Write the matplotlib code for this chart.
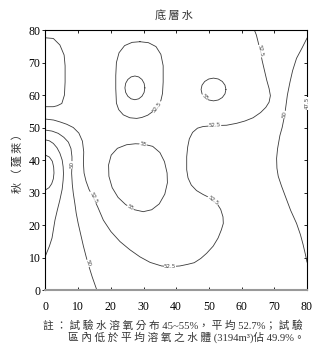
import numpy as np
import matplotlib
matplotlib.use('Agg')
import matplotlib.pyplot as plt

plt.rcParams['font.family'] = ['Liberation Serif', 'Noto Sans CJK TC', 'DejaVu Sans']

lobe_x = [0, 2.4, 4.4, 5.7, 6.0, 6.0, 5.8, 5.0, 3.6, 2.4, 0]
lobe_y = [77.6, 77.4, 75.4, 72.3, 69.0, 64.0, 60.0, 57.4, 56.7, 56.4, 56.4]

oval_x = [28.9, 31.5, 33.8, 35.3, 36.0, 36.0, 35.8, 35.3, 34.1, 32.8, 31.3, 29.5, 27.9,
          25.8, 23.8, 22.4, 21.7, 21.5, 21.5, 21.7, 22.5, 24.2, 26.5, 28.9]
oval_y = [76.4, 76.1, 74.9, 72.5, 69.0, 64.0, 60.5, 58.3, 56.4, 54.9, 53.8, 53.1, 52.8,
          53.0, 53.9, 55.5, 57.5, 62.0, 66.0, 70.0, 73.0, 75.2, 76.2, 76.4]

ring1_x = [30.40, 30.17, 29.51, 28.52, 27.35, 26.18, 25.19, 24.53, 24.30,
           24.53, 25.19, 26.18, 27.35, 28.52, 29.51, 30.17, 30.40]
ring1_y = [62.20, 63.60, 64.78, 65.57, 65.85, 65.57, 64.78, 63.60, 62.20,
           60.80, 59.62, 58.83, 58.55, 58.83, 59.62, 60.80, 62.20]

ring2_x = [55.20, 54.91, 54.09, 52.85, 51.40, 49.95, 48.71, 47.89, 47.60,
           47.89, 48.71, 49.95, 51.40, 52.85, 54.09, 54.91, 55.20]
ring2_y = [61.70, 63.04, 64.17, 64.93, 65.20, 64.93, 64.17, 63.04, 61.70,
           60.36, 59.23, 58.47, 58.20, 58.47, 59.23, 60.36, 61.70]

ring3_x = [29.9, 32.8, 35.0, 36.4, 37.2, 37.3, 36.5, 34.8, 32.5, 29.9, 27.2, 26.0,
           24.5, 22.2, 20.4, 19.4, 19.3, 20.1, 22.0, 24.8, 27.5, 29.9]
ring3_y = [44.9, 44.2, 42.3, 39.5, 36.0, 33.0, 29.5, 26.5, 24.7, 24.1, 24.7, 25.4,
           26.3, 28.5, 31.5, 35.0, 38.5, 41.5, 43.6, 44.7, 45.0, 44.9]

long_x = [0, 2.5, 4.5, 6.5, 8.5, 10.2, 11.3, 11.7, 11.6, 11.8, 12.4, 13.3, 14.6, 16.0,
          17.7, 20.0, 22.8, 25.8, 28.9, 32.0, 35.5, 38.1, 41.1, 43.5, 45.5, 47.5, 49.3,
          51.3, 52.8, 53.8, 54.4, 54.3, 53.6, 52.6, 51.2, 49.8, 48.2, 46.2, 44.6, 43.6,
          43.2, 43.2, 43.5, 44.0, 45.0, 46.5, 48.2, 51.8, 55.4, 58.5, 61.0, 63.5, 65.8,
          67.4, 68.4, 68.8, 68.4, 67.7, 67.0, 66.3, 65.7, 65.0, 64.5, 63.9]
long_y = [52.6, 52.3, 51.7, 51.0, 50.0, 48.3, 45.8, 42.5, 39.0, 36.0, 33.5, 31.0, 28.5, 25.5,
          21.5, 18.0, 14.9, 12.4, 10.2, 8.5, 7.4, 7.2, 7.4, 7.9, 8.4, 9.7, 11.3,
          13.5, 16.0, 18.5, 20.5, 22.5, 24.8, 26.4, 27.5, 28.6, 29.4, 30.6, 32.3, 34.5,
          37.0, 41.0, 44.0, 46.5, 48.5, 49.8, 50.3, 50.6, 50.7, 51.3, 52.0, 53.0, 54.6,
          56.2, 57.8, 59.8, 62.0, 64.5, 67.5, 70.5, 73.5, 76.5, 78.5, 80.0]

right50_x = [80, 78.5, 76.8, 75.6, 74.8, 74.0, 73.2, 72.4, 71.7, 71.0, 70.7, 70.8, 71.2,
             72.2, 73.5, 75.0, 76.8, 78.0, 78.8, 79.5, 80]
right50_y = [77.5, 74.5, 71.3, 67.5, 64.0, 60.0, 54.0, 50.0, 47.5, 43.5, 40.5, 37.5, 35.0,
             32.0, 28.5, 24.5, 20.5, 17.0, 14.0, 11.0, 8.6]

left50_x = [0, 2.0, 3.9, 5.6, 7.0, 7.8, 8.1, 8.1, 8.0, 8.2, 8.5, 9.0, 9.4, 10.0, 10.8,
            11.6, 12.5, 13.0, 14.3, 15.7]
left50_y = [49.2, 48.9, 48.2, 47.0, 45.5, 43.5, 41.0, 38.5, 35.9, 32.5, 29.8, 26.5, 23.6,
            20.5, 17.0, 13.5, 10.0, 8.2, 4.0, 0]

left475_x = [0, 1.2, 2.4, 3.5, 4.4, 5.1, 5.4, 5.5, 5.4, 5.1, 4.4, 3.6, 2.9, 2.0, 1.2, 0]
left475_y = [46.2, 45.9, 45.1, 43.8, 42.1, 40.0, 37.9, 35.8, 33.8, 31.0, 27.7, 24.5, 21.5,
             16.0, 13.5, 10.5]

left45_x = [0, 1.2, 2.1, 2.5, 2.6, 2.4, 1.9, 1.1, 0]
left45_y = [41.5, 40.9, 39.6, 37.8, 36.0, 34.2, 32.7, 31.5, 30.8]

edge_x = [80, 80, 80]
edge_y = [52, 57.5, 63]

lines = [(lobe_x, lobe_y), (oval_x, oval_y), (ring1_x, ring1_y), (ring2_x, ring2_y),
         (ring3_x, ring3_y), (long_x, long_y), (right50_x, right50_y),
         (left50_x, left50_y), (left475_x, left475_y), (left45_x, left45_y)]

# (line, point index, label)
labels = [((oval_x, oval_y), 8, '52.5'),
          ((ring2_x, ring2_y), 10, '55'),
          ((ring3_x, ring3_y), 0, '55'),
          ((ring3_x, ring3_y), 11, '55'),
          ((long_x, long_y), 12, '52.5'),
          ((long_x, long_y), 21, '52.5'),
          ((long_x, long_y), 34, '52.5'),
          ((long_x, long_y), 47, '52.5'),
          ((long_x, long_y), 60, '52.5'),
          ((right50_x, right50_y), 6, '50'),
          ((left50_x, left50_y), 7, '50'),
          ((left50_x, left50_y), 17, '50'),
          ((edge_x, edge_y), 1, '47.5')]

fig = plt.figure(figsize=(3.15, 3.45), dpi=100)
ax = fig.add_axes([0.1444, 0.1594, 0.8302, 0.7536])
ax.set_xlim(0, 80)
ax.set_ylim(0, 80)

for lx, ly in lines:
    ax.plot(lx, ly, color='#3a3a3a', lw=0.6)

for (lx, ly), i, s in labels:
    j0 = max(i - 1, 0)
    j1 = min(i + 1, len(lx) - 1)
    p0 = ax.transData.transform((lx[j0], ly[j0]))
    p1 = ax.transData.transform((lx[j1], ly[j1]))
    ang = np.degrees(np.arctan2(p1[1] - p0[1], p1[0] - p0[0]))
    if ang > 90:
        ang -= 180
    if ang < -90:
        ang += 180
    ax.text(lx[i], ly[i], s, fontsize=4, family='DejaVu Sans', color='#444',
            rotation=ang, rotation_mode='anchor', ha='center', va='center',
            bbox=dict(boxstyle='square,pad=0.05', fc='white', ec='none'), zorder=3)

ax.set_xticks(np.arange(0, 81, 10))
ax.set_yticks(np.arange(0, 81, 10))
ax.tick_params(axis='x', direction='in', length=2.5, width=0.6, pad=8, labelsize=8.5,
               top=True)
ax.tick_params(axis='y', which='both', left=True, right=True, labelsize=8.5)
ax.tick_params(axis='y', direction='out', length=2.5, width=0.6, pad=1)
for side in ['top', 'left', 'right']:
    ax.spines[side].set_linewidth(0.8)
ax.spines['bottom'].set_linewidth(1.5)
ax.spines['bottom'].set_color('#999999')
# right-side ticks point inward
for t in ax.yaxis.get_major_ticks():
    t.tick2line.set_marker(matplotlib.lines.TICKLEFT)

def spaced(s, gap='\u2009'):
    # widen the CJK text a little, like the original typesetting
    return ''.join(c + gap if ord(c) > 0x2000 else c for c in s)

fig.text(0.556, 0.9565, spaced('底層水'), fontsize=8, ha='center', va='center', color='#333')
ax.set_ylabel(spaced('秋（蓬萊）'), fontsize=8, color='#333', labelpad=4)

note1 = '註：試驗水溶氧分布45~55%，平均52.7%；試驗'
note2 = '區內低於平均溶氧之水體(3194m³)佔49.9%。'
fig.text(0.137, 0.055, spaced(note1, ' '), fontsize=7.7, ha='left', va='center', color='#333')
fig.text(0.216, 0.022, spaced(note2, ' '), fontsize=7.7, ha='left', va='center', color='#333')

plt.savefig('out.png', dpi=100)
